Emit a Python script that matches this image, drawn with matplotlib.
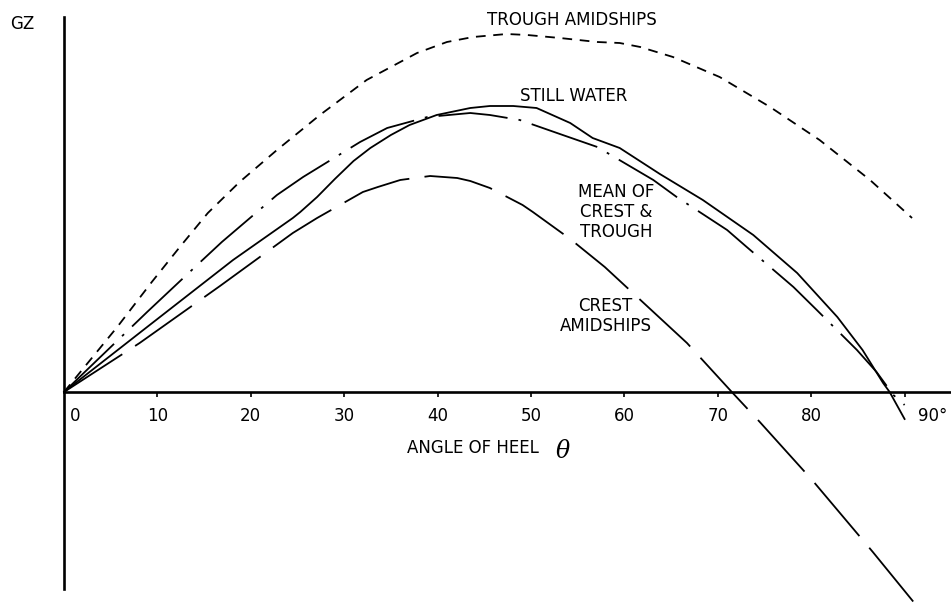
import numpy as np
import matplotlib

matplotlib.use("Agg")
import matplotlib.pyplot as plt
from matplotlib.transforms import ScaledTranslation

plt.rcParams["lines.scale_dashes"] = False
plt.rcParams["font.family"] = "DejaVu Sans"

# angle of heel (degrees) and GZ (arbitrary units)
trough_angle = [0, 5.7, 9.4, 12.4, 15.4, 18.8, 22.8, 27.4, 32.4, 37.8, 41.0, 43.8, 47.4,
                49.6, 53.1, 57.1, 59.5, 61.7, 65.2, 70.2, 75.6, 80.9, 86.3, 90.8]
trough_gz = [0, 0.65, 1.10, 1.45, 1.79, 2.10, 2.42, 2.77, 3.12, 3.39, 3.50, 3.55, 3.58,
             3.57, 3.54, 3.50, 3.49, 3.45, 3.35, 3.15, 2.85, 2.52, 2.12, 1.74]

still_angle = [0, 8.9, 18.1, 24.5, 25.3, 27.1, 29.0, 31.0, 32.8, 35.0, 37.0, 39.9, 43.5,
               45.6, 48.1, 50.6, 54.2, 56.6, 59.5, 63.8, 68.4, 73.8, 78.5, 82.8, 85.5,
               87.7, 88.4, 90.0]
still_gz = [0, 0.65, 1.32, 1.74, 1.80, 1.95, 2.13, 2.31, 2.44, 2.57, 2.67, 2.77, 2.84,
            2.86, 2.86, 2.84, 2.69, 2.54, 2.44, 2.18, 1.92, 1.57, 1.19, 0.75, 0.42,
            0.09, 0.0, -0.27]

mean_angle = [0, 8.9, 14.6, 16.9, 22.8, 25.6, 31.7, 34.6, 38.9, 43.5, 45.6, 48.8, 53.4,
              57.1, 63.1, 65.6, 71.0, 73.1, 78.1, 80.6, 84.9, 87.0, 88.8, 90.0]
mean_gz = [0, 0.80, 1.30, 1.50, 1.97, 2.15, 2.50, 2.64, 2.75, 2.79, 2.77, 2.72, 2.57,
           2.45, 2.12, 1.95, 1.62, 1.45, 1.05, 0.82, 0.42, 0.20, -0.03, -0.13]

crest_angle = [0, 8.1, 16.7, 24.5, 27.1, 32.0, 33.6, 36.0, 39.2, 42.1, 43.5, 45.6, 49.1,
               50.2, 54.2, 57.9, 66.7, 71.6, 74.5, 80.1, 86.6, 91.4]
crest_gz = [0, 0.49, 1.06, 1.59, 1.74, 2.00, 2.05, 2.12, 2.16, 2.14, 2.11, 2.04, 1.87,
            1.80, 1.53, 1.25, 0.49, -0.01, -0.30, -0.88, -1.60, -2.15]

tick_angles = [0, 10, 20, 30, 40, 50, 60, 70, 80, 90]
tick_labels = ["0", "10", "20", "30", "40", "50", "60", "70", "80", "90°"]


def draw_curves(ax):
    ax.plot(trough_angle, trough_gz, color="black", lw=1.3, dashes=(7, 5.5))
    ax.plot(still_angle, still_gz, color="black", lw=1.3)
    ax.plot(mean_angle, mean_gz, color="black", lw=1.3, dashes=(50, 8, 2, 8))
    ax.plot(crest_angle, crest_gz, color="black", lw=1.3, dashes=(50, 11))


def draw_axes(ax, fig):
    ax.set_xlim(-6.852, 94.97)
    ax.set_ylim(-2.15, 3.92)
    for side in ["top", "right"]:
        ax.spines[side].set_visible(False)
    ax.spines["left"].set_position(("data", 0))
    ax.spines["left"].set_bounds(-1.97, 3.75)
    ax.spines["bottom"].set_position(("data", 0))
    ax.spines["bottom"].set_bounds(0, 94.97)
    ax.spines["left"].set_linewidth(1.9)
    ax.spines["bottom"].set_linewidth(1.9)

    ax.set_yticks([])
    ax.set_xticks(tick_angles)
    ax.set_xticklabels(tick_labels, fontsize=12)
    ax.tick_params(axis="x", direction="out", length=3.5, width=1.2, pad=7)

    labels = ax.get_xticklabels()
    labels[0].set_ha("left")
    labels[0].set_transform(labels[0].get_transform() + ScaledTranslation(0.06, 0, fig.dpi_scale_trans))
    labels[-1].set_ha("left")
    labels[-1].set_transform(labels[-1].get_transform() + ScaledTranslation(0.13, 0, fig.dpi_scale_trans))
    ax.xaxis.get_major_ticks()[0].tick1line.set_visible(False)


def draw_labels(ax):
    ax.text(-4.5, 3.68, "GZ", fontsize=12, ha="center", va="center")
    ax.text(54.4, 3.72, "TROUGH AMIDSHIPS", fontsize=12, ha="center", va="center")
    ax.text(54.6, 2.96, "STILL WATER", fontsize=12, ha="center", va="center")
    ax.text(59.1, 1.80, "MEAN OF\nCREST &\nTROUGH", fontsize=12, ha="center", va="center",
            multialignment="center", linespacing=1.15)
    ax.text(58.0, 0.76, "CREST\nAMIDSHIPS", fontsize=12, ha="center", va="center",
            multialignment="center", linespacing=1.15)
    ax.text(36.7, -0.56, "ANGLE OF HEEL", fontsize=12, ha="left", va="center")
    ax.text(53.4, -0.59, "θ", fontsize=17, family="DejaVu Serif", style="italic",
            ha="center", va="center")


if __name__ == "__main__":
    fig = plt.figure(figsize=(9.51, 6.07), dpi=100)
    ax = fig.add_axes([0, 0, 1, 1])
    draw_curves(ax)
    draw_axes(ax, fig)
    draw_labels(ax)
    fig.savefig("out.png", dpi=100, facecolor="white")
    plt.close(fig)
